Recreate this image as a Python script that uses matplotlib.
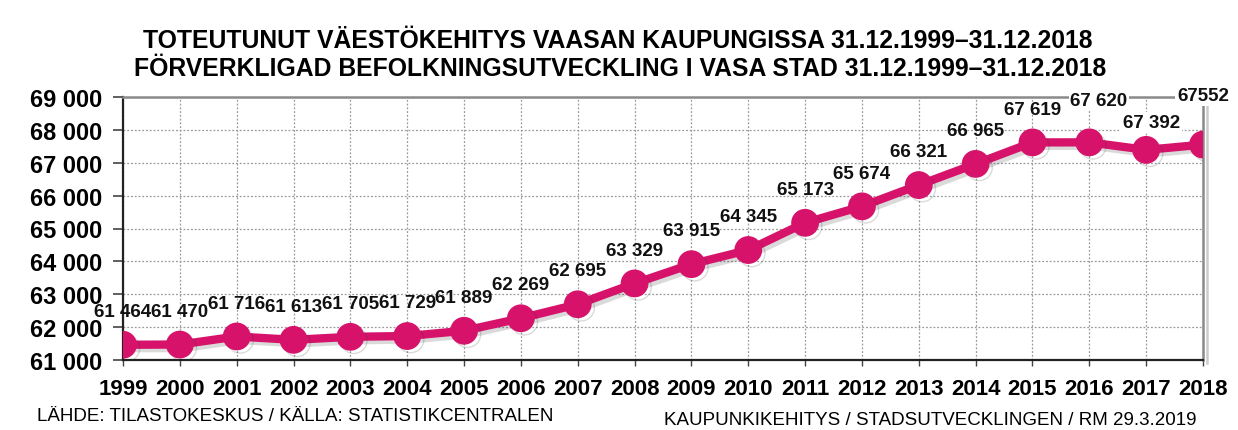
import matplotlib
matplotlib.use("Agg")
import matplotlib.pyplot as plt
import matplotlib.patheffects as pe
from matplotlib.ticker import FuncFormatter

years = list(range(1999, 2019))
population = [61464, 61470, 61716, 61613, 61705, 61729, 61889, 62269, 62695, 63329,
              63915, 64345, 65173, 65674, 66321, 66965, 67619, 67620, 67392, 67552]
value_labels = ["61 464", "61 470", "61 716", "61 613", "61 705", "61 729", "61 889",
                "62 269", "62 695", "63 329", "63 915", "64 345", "65 173", "65 674",
                "66 321", "66 965", "67 619", "67 620", "67 392", "67552"]
title_lines = ["TOTEUTUNUT VÄESTÖKEHITYS VAASAN KAUPUNGISSA 31.12.1999–31.12.2018",
               "FÖRVERKLIGAD BEFOLKNINGSUTVECKLING I VASA STAD 31.12.1999–31.12.2018"]
source_text = "LÄHDE: TILASTOKESKUS / KÄLLA: STATISTIKCENTRALEN"
credit_text = "KAUPUNKIKEHITYS / STADSUTVECKLINGEN / RM 29.3.2019"

# label offsets (points) - styling only
label_dy = [24] * 20
label_dy[17] = 30
label_dy[18] = 20
label_dy[19] = 35
label_dx = [0] * 20
label_dx[17] = 7
label_dx[18] = 4

plt.rcParams['font.family'] = ['Liberation Sans', 'DejaVu Sans']

W, H = 1238, 431
fig = plt.figure(figsize=(W / 100, H / 100), dpi=100)
ax = fig.add_axes([123 / W, 1 - 361 / H, (1203 - 123) / W, (361 - 98) / H])

color = '#D6126B'
ax.plot(years, population, color=color, lw=6, marker='o', ms=19,
        markeredgecolor=color, zorder=5, solid_capstyle='round',
        path_effects=[pe.SimpleLineShadow(offset=(2.5, -2.5), shadow_color='#333333', alpha=0.18),
                      pe.Normal()])

ax.set_xlim(1999, 2018)
ax.set_ylim(61000, 69000)
ax.set_xticks(years)
ax.set_yticks(range(61000, 69001, 1000))
ax.yaxis.set_major_formatter(FuncFormatter(lambda v, p: f"{int(v):,}".replace(",", " ")))
ax.tick_params(axis='y', labelsize=17, length=7, width=1.2, direction='out', pad=8, color='#444444')
ax.tick_params(axis='x', labelsize=16, length=4, width=1, direction='out', pad=9, color='#444444')
for lab in ax.get_yticklabels() + ax.get_xticklabels():
    lab.set_fontweight('bold')

ax.grid(True, color='#9a9a9a', linestyle=(0, (1.5, 1.5)), lw=0.9)
ax.set_axisbelow(True)
for s in ['left', 'bottom']:
    ax.spines[s].set_color('#222222')
    ax.spines[s].set_linewidth(1.6)
for s in ['top', 'right']:
    ax.spines[s].set_color('#8a8a8a')
    ax.spines[s].set_linewidth(1.8)
ax.spines['right'].set_path_effects([pe.SimpleLineShadow(offset=(3, -2), alpha=0.2), pe.Normal()])

for x, y, t, dx, dy in zip(years, population, value_labels, label_dx, label_dy):
    kw = {}
    if x >= 2016:
        kw['bbox'] = dict(boxstyle='square,pad=0.1', fc='white', ec='none')
    ax.annotate(t, (x, y), xytext=(dx, dy), textcoords='offset points',
                ha='center', va='center', fontsize=13.5, fontweight='bold',
                color='#111111', zorder=10, annotation_clip=False, **kw)

fig.text(618 / W, 1 - 41 / H, title_lines[0], ha='center', va='center',
         fontsize=17.8, fontweight='bold')
fig.text(620 / W, 1 - 69 / H, title_lines[1], ha='center', va='center',
         fontsize=17.8, fontweight='bold')
fig.text(37 / W, 1 - 417 / H, source_text, ha='left', va='center', fontsize=13.5)
fig.text(1197 / W, 1 - 421 / H, credit_text, ha='right', va='center', fontsize=13.5)

fig.savefig('out.png', dpi=100)
